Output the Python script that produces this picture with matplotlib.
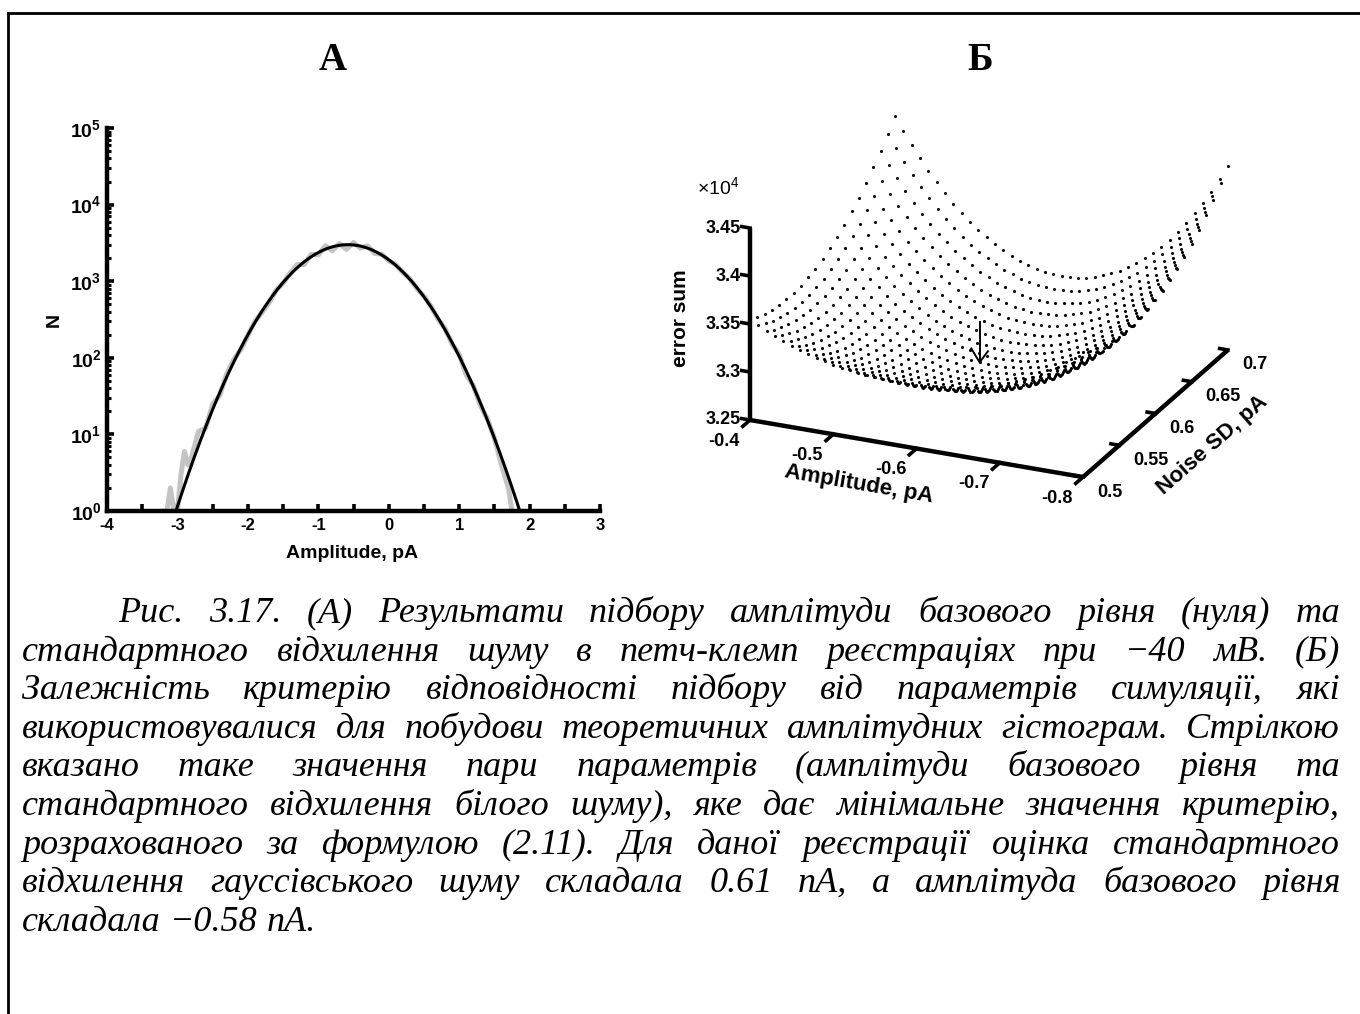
import numpy as np
import matplotlib
matplotlib.use('Agg')
import matplotlib.pyplot as plt
from matplotlib.lines import Line2D
from matplotlib.ticker import FixedLocator, FixedFormatter, NullFormatter
from mpl_toolkits.mplot3d import proj3d

plt.rcParams['font.family'] = ['Liberation Sans', 'DejaVu Sans']
plt.rcParams['mathtext.fontset'] = 'custom'
plt.rcParams['mathtext.rm'] = 'Liberation Sans'
plt.rcParams['mathtext.bf'] = 'Liberation Sans:bold'
plt.rcParams['mathtext.it'] = 'Liberation Sans:italic'

W, H = 1360, 1014

# === panel A: baseline amplitude histogram (counts) ===
hist_x = [-3.20, -3.15, -3.10, -3.05, -3.00, -2.95, -2.90, -2.85, -2.80,
          -2.70, -2.60, -2.50, -2.40, -2.30, -2.20, -2.10, -2.00,
          -1.90, -1.80, -1.70, -1.60, -1.50, -1.40, -1.30, -1.20, -1.10,
          -1.00, -0.90, -0.80, -0.70, -0.60, -0.50, -0.40, -0.30, -0.20, -0.10,
          0.00, 0.10, 0.20, 0.30, 0.40, 0.50, 0.60, 0.70, 0.80, 0.90,
          1.00, 1.10, 1.20, 1.30, 1.40, 1.50, 1.60, 1.70, 1.75]
hist_n = [1, 1, 2, 1, 1, 3, 6, 4, 5,
          11, 12, 25, 32, 62, 95, 128, 195,
          300, 390, 520, 760, 940, 1280, 1650, 1650, 2250,
          2200, 2900, 2500, 3100, 2600, 3200, 2700, 2900, 2300, 2250,
          1850, 1650, 1300, 1080, 800, 640, 470, 320, 240, 150,
          112, 60, 44, 24, 16, 9, 4, 2, 1]
fit_mean = -0.58   # pA
fit_sd = 0.61      # pA
fit_peak = 3000

# === panel B: fit criterion over the simulation grid ===
amp_grid = np.round(np.linspace(-0.40, -0.80, 41), 2)
sd_grid = np.round(np.linspace(0.50, 0.70, 21), 2)
err_min = 3.264        # x10^4, at (fit_mean, fit_sd)
amp_curv = 2.2
sd_curv = 4.3
valley_bend = 1.3
amp_tilt = 0.67

z_ticks = [3.25, 3.30, 3.35, 3.40, 3.45]
z_ticklabels = ['3.25', '3.3', '3.35', '3.4', '3.45']
amp_ticks = [-0.4, -0.5, -0.6, -0.7, -0.8]
amp_ticklabels = ['-0.4', '-0.5', '-0.6', '-0.7', '-0.8']
sd_ticks = [0.5, 0.55, 0.6, 0.65, 0.7]
sd_ticklabels = ['0.5', '0.55', '0.6', '0.65', '0.7']

caption_lines = [
    'Рис. 3.17. (А) Результати підбору амплітуди базового рівня (нуля) та',
    'стандартного відхилення шуму в петч-клемп реєстраціях при −40 мВ. (Б)',
    'Залежність критерію відповідності підбору від параметрів симуляції, які',
    'використовувалися для побудови теоретичних амплітудних гістограм. Стрілкою',
    'вказано таке значення пари параметрів (амплітуди базового рівня та',
    'стандартного відхилення білого шуму), яке дає мінімальне значення критерію,',
    'розрахованого за формулою (2.11). Для даної реєстрації оцінка стандартного',
    'відхилення гауссівського шуму складала 0.61 пА, а амплітуда базового рівня',
    'складала −0.58 пА.',
]

fig = plt.figure(figsize=(W / 100, H / 100), dpi=100)

# frame around the figure block
fig.add_artist(Line2D([8 / W, 8 / W], [0, 1 - 13 / H], color='k', lw=2,
                      transform=fig.transFigure))
fig.add_artist(Line2D([8 / W, 1], [1 - 13 / H, 1 - 13 / H], color='k', lw=2,
                      transform=fig.transFigure))

fig.text(333 / W, 1 - 60 / H, 'А', family='Liberation Serif', weight='bold',
         fontsize=28, ha='center', va='center')
fig.text(980 / W, 1 - 60 / H, 'Б', family='Liberation Serif', weight='bold',
         fontsize=28, ha='center', va='center')

# ---------------- panel A ----------------
axA = fig.add_axes([107 / W, 1 - 511 / H, 493 / W, 383 / H])
axA.set_yscale('log')
axA.plot(hist_x, hist_n, color='#c4c4c4', lw=3.6, solid_joinstyle='round', zorder=2)
xf = np.linspace(-3.3, 2.1, 500)
yf = fit_peak * np.exp(-(xf - fit_mean) ** 2 / (2 * fit_sd ** 2))
axA.plot(xf, yf, color='k', lw=2.2, zorder=3)
axA.set_xlim(-4, 3)
axA.set_ylim(1, 1e5)
for side in ['top', 'right']:
    axA.spines[side].set_visible(False)
for side in ['left', 'bottom']:
    axA.spines[side].set_linewidth(3.2)
axA.xaxis.set_major_locator(FixedLocator(np.arange(-4, 4)))
axA.xaxis.set_major_formatter(FixedFormatter(['-4', '-3', '-2', '-1', '0', '1', '2', '3']))
axA.xaxis.set_minor_locator(FixedLocator(np.arange(-3.5, 3, 1.0)))
axA.yaxis.set_major_locator(FixedLocator([10.0 ** k for k in range(6)]))
axA.yaxis.set_major_formatter(FixedFormatter(['$\\mathbf{10^{%d}}$' % k for k in range(6)]))
axA.yaxis.set_minor_locator(FixedLocator([m * 10.0 ** k for k in range(5) for m in range(2, 10)]))
axA.yaxis.set_minor_formatter(NullFormatter())
axA.tick_params(which='major', direction='in', width=2.6, length=5, labelsize=12, pad=5)
axA.tick_params(axis='y', which='major', labelsize=14, pad=4)
axA.tick_params(which='minor', direction='in', width=2.2, length=3)
axA.tick_params(axis='x', which='minor', length=5, width=2.6)
for lab in axA.get_xticklabels():
    lab.set_fontweight('bold')
axA.set_xlabel('Amplitude, pA', fontsize=14, fontweight='bold')
axA.xaxis.set_label_coords(0.497, -0.09)
axA.xaxis.label.set_va('top')
axA.set_ylabel('N', fontsize=14, fontweight='bold')
axA.yaxis.set_label_coords(-0.09, 0.5)

# ---------------- panel B ----------------
ax3 = fig.add_axes([0.5, 0.4, 0.45, 0.45], projection='3d', computed_zorder=False)
ax3.set_proj_type('ortho')
ax3.view_init(elev=22.8, azim=-66.15)
ax3.set_xlim(-0.4, -0.8)
ax3.set_ylim(0.5, 0.7)
ax3.set_zlim(3.25, 3.45)
ax3.set_box_aspect((1, 0.985, 0.572))
ax3.set_axis_off()
ax3.patch.set_alpha(0)

AA, SS = np.meshgrid(amp_grid, sd_grid)
da = AA - fit_mean
err = (err_min + amp_curv * da ** 2
       + sd_curv * (SS - fit_sd + valley_bend * da ** 2) ** 2
       + amp_tilt * da * (SS - sd_grid[0]))
ax3.scatter(AA.ravel(), SS.ravel(), err.ravel(), s=5, c='k', linewidths=0,
            depthshade=False, zorder=2)

# axis lines and ticks
lw_ax = 3.2
ax3.plot([-0.4, -0.4], [0.5, 0.5], [3.25, 3.45], color='k', lw=lw_ax, zorder=4,
         solid_capstyle='butt')
ax3.plot([-0.4, -0.8], [0.5, 0.5], [3.25, 3.25], color='k', lw=lw_ax, zorder=4,
         solid_capstyle='butt')
ax3.plot([-0.8, -0.8], [0.5, 0.7], [3.25, 3.25], color='k', lw=lw_ax, zorder=4,
         solid_capstyle='butt')
for z in z_ticks:
    ax3.plot([-0.4, -0.39], [0.5, 0.5], [z, z], color='k', lw=2.6, zorder=4)
for a in amp_ticks:
    ax3.plot([a, a], [0.5, 0.49], [3.25, 3.25], color='k', lw=2.6, zorder=4)
for s in sd_ticks:
    ax3.plot([-0.8, -0.79], [s, s], [3.25, 3.25], color='k', lw=2.6, zorder=4)

# arrow pointing at the minimum
tip = err_min
ax3.plot([fit_mean, fit_mean], [fit_sd, fit_sd], [tip, tip + 0.042], color='k',
         lw=1.4, zorder=5)
ax3.plot([fit_mean - 0.01, fit_mean, fit_mean + 0.01], [fit_sd] * 3,
         [tip + 0.013, tip, tip + 0.013], color='k', lw=1.4, zorder=5)


def to_px(x, y, z):
    xs, ys, _ = proj3d.proj_transform(x, y, z, ax3.get_proj())
    return ax3.transData.transform((xs, ys))


def place_axes3d(target1, target2):
    fig.canvas.draw()
    p1 = to_px(-0.4, 0.5, 3.25)
    p2 = to_px(-0.8, 0.5, 3.25)
    t1 = np.array([target1[0], H - target1[1]])
    t2 = np.array([target2[0], H - target2[1]])
    k = np.linalg.norm(t2 - t1) / np.linalg.norm(p2 - p1)
    bb = ax3.get_position().transformed(fig.transFigure)
    x0 = t1[0] - k * (p1[0] - bb.x0)
    y0 = t1[1] - k * (p1[1] - bb.y0)
    ax3.set_position([x0 / W, y0 / H, k * bb.width / W, k * bb.height / H])


for _ in range(3):
    place_axes3d((750, 420), (1083, 477))
fig.canvas.draw()


def label3d(x, y, z, s, dx=0, dy=0, rotation=0, **kw):
    px, py = to_px(x, y, z)
    fig.text((px + dx) / W, (py + dy) / H, s, rotation=rotation,
             rotation_mode='anchor', **kw)


def axis_angle(p_from, p_to):
    a = to_px(*p_from)
    b = to_px(*p_to)
    return np.degrees(np.arctan2(b[1] - a[1], b[0] - a[0]))


amp_angle = axis_angle((-0.4, 0.5, 3.25), (-0.8, 0.5, 3.25))
sd_angle = axis_angle((-0.8, 0.5, 3.25), (-0.8, 0.7, 3.25))

for z, t in zip(z_ticks, z_ticklabels):
    label3d(-0.4, 0.5, z, t, dx=-9, dy=0, ha='right', va='center',
            fontsize=13, fontweight='bold')
for a, t in zip(amp_ticks, amp_ticklabels):
    label3d(a, 0.5, 3.25, t, dx=-26, dy=-21, ha='center', va='center',
            fontsize=13, fontweight='bold')
for s, t in zip(sd_ticks, sd_ticklabels):
    label3d(-0.8, s, 3.25, t, dx=14, dy=-15, ha='left', va='center',
            fontsize=13, fontweight='bold')
label3d(-0.4, 0.5, 3.35, 'error sum', dx=-70, dy=6, rotation=90, ha='center',
        va='center', fontsize=15, fontweight='bold')
label3d(-0.6, 0.5, 3.25, 'Amplitude, pA', dx=-58, dy=-36, rotation=amp_angle,
        ha='center', va='center', fontsize=16, fontweight='bold')
label3d(-0.8, 0.6, 3.25, 'Noise SD, pA', dx=57, dy=-32, rotation=sd_angle,
        ha='center', va='center', fontsize=16, fontweight='bold')
fig.text(697 / W, 1 - 187 / H, '$\\times\\mathregular{10^{4}}$', fontsize=14,
         ha='left', va='center')

# ---------------- caption (justified) ----------------
renderer = fig.canvas.get_renderer()
cap_kw = dict(family='Liberation Serif', style='italic', fontsize=26, va='baseline')
left, right, indent = 22, 1340, 118
base0, step = 622, 38.6
probe = fig.text(0, 0, 'a a', **cap_kw)
space_w = probe.get_window_extent(renderer).width
probe.set_text('aa')
space_w -= probe.get_window_extent(renderer).width
probe.remove()
for i, line in enumerate(caption_lines):
    yb = 1 - (base0 + i * step) / H
    x0 = indent if i == 0 else left
    words = line.split(' ')
    texts = [fig.text(x0 / W, yb, w, **cap_kw) for w in words]
    widths = [t.get_window_extent(renderer).width for t in texts]
    if i < len(caption_lines) - 1:
        gap = (right - x0 - sum(widths)) / (len(words) - 1)
    else:
        gap = space_w
    x = x0
    for t, w in zip(texts, widths):
        t.set_x(x / W)
        x += w + gap

fig.savefig('out.png', dpi=100)
